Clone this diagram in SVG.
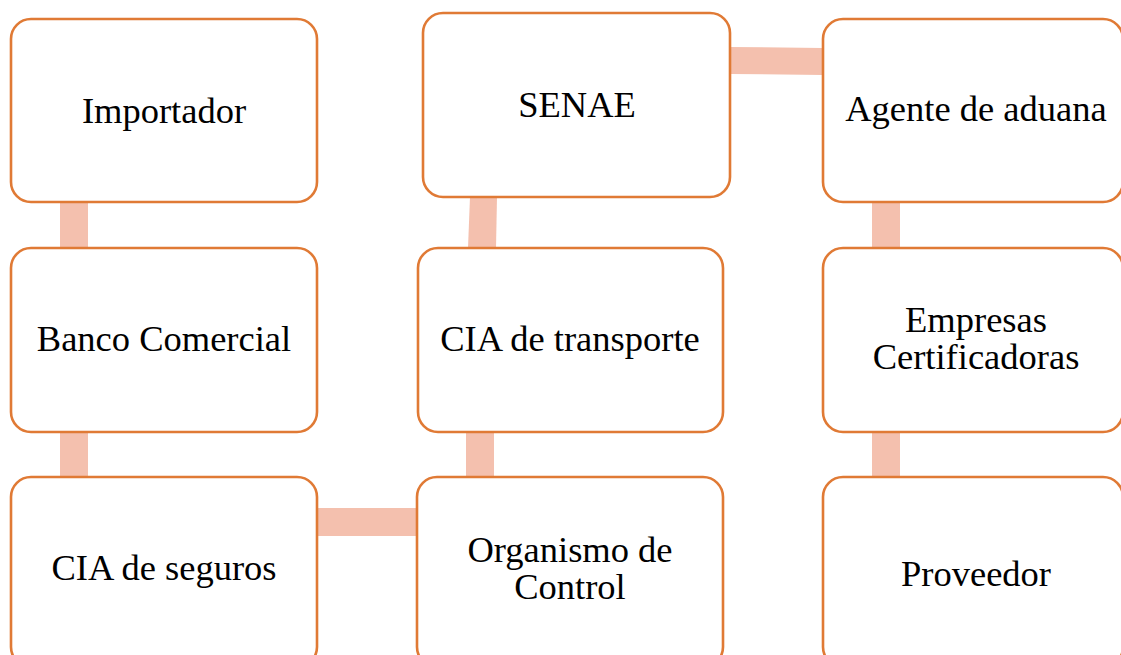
<svg xmlns="http://www.w3.org/2000/svg" width="1121" height="655" viewBox="0 0 1121 655">
<style>
.box{fill:#FFFFFF;stroke:#E07A35;stroke-width:2.6}
.lbl{font-family:"Liberation Serif","Times New Roman",serif;font-size:36.5px;fill:#000000;text-anchor:middle}
.con{fill:#F4C0AE;stroke:none}
</style>
<rect width="1121" height="655" fill="#FFFFFF"/>
<g id="connectors">
<rect class="con" x="60" y="202" width="28" height="46"/>
<rect class="con" x="60" y="432" width="28" height="45"/>
<rect class="con" x="317" y="508" width="100" height="28"/>
<rect class="con" x="466" y="432" width="28" height="45"/>
<polygon class="con" points="470,197 497,197 496,248 468,248"/>
<polygon class="con" points="730,47 823,48 823,75 730,74"/>
<rect class="con" x="872" y="202" width="28" height="46"/>
<rect class="con" x="872" y="432" width="28" height="45"/>
</g>
<g id="importador">
<rect class="box" x="11" y="19" width="306" height="183" rx="20"/>
<text class="lbl" x="164" y="123">Importador</text>
</g>
<g id="banco">
<rect class="box" x="11" y="248" width="306" height="184" rx="20"/>
<text class="lbl" x="164" y="351">Banco Comercial</text>
</g>
<g id="seguros">
<rect class="box" x="11" y="477" width="306" height="190" rx="20"/>
<text class="lbl" x="164" y="580">CIA de seguros</text>
</g>
<g id="senae">
<rect class="box" x="423" y="13" width="307" height="184" rx="20"/>
<text class="lbl" x="577" y="117">SENAE</text>
</g>
<g id="transporte">
<rect class="box" x="418" y="248" width="305" height="184" rx="20"/>
<text class="lbl" x="570" y="351">CIA de transporte</text>
</g>
<g id="organismo">
<rect class="box" x="417" y="477" width="306" height="190" rx="20"/>
<text class="lbl" x="570" y="562">Organismo de</text>
<text class="lbl" x="570" y="599">Control</text>
</g>
<g id="agente">
<rect class="box" x="823" y="19" width="300" height="183" rx="20"/>
<text class="lbl" x="976" y="121">Agente de aduana</text>
</g>
<g id="empresas">
<rect class="box" x="823" y="248" width="300" height="184" rx="20"/>
<text class="lbl" x="976" y="332">Empresas</text>
<text class="lbl" x="976" y="369">Certificadoras</text>
</g>
<g id="proveedor">
<rect class="box" x="823" y="477" width="300" height="190" rx="20"/>
<text class="lbl" x="976" y="586">Proveedor</text>
</g>
</svg>
